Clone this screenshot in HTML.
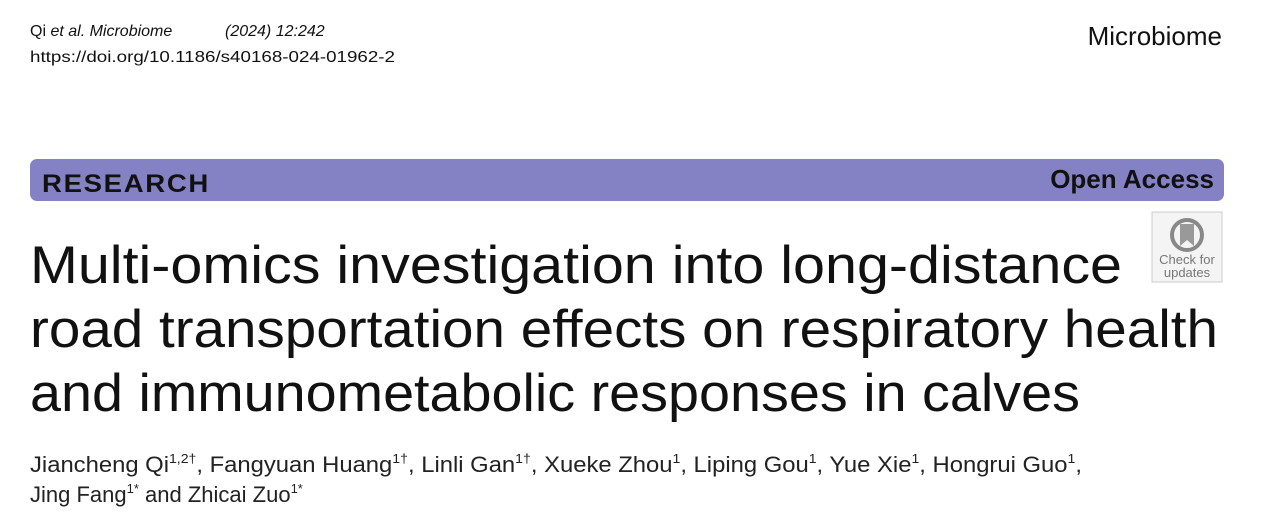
<!DOCTYPE html>
<html><head><meta charset="utf-8"><style>
html,body{margin:0;padding:0;background:#fff;}
svg{display:block;font-family:"Liberation Sans",sans-serif;}
</style></head><body>
<svg width="1266" height="528" viewBox="0 0 1266 528" xmlns="http://www.w3.org/2000/svg">
<rect width="1266" height="528" fill="#fff"/>
<text x="30" y="36" font-size="16" fill="#111">Qi <tspan font-style="italic">et al. Microbiome</tspan></text>
<text x="225" y="36" font-size="16" font-style="italic" fill="#111">(2024) 12:242</text>
<text x="30" y="62" font-size="16" fill="#111" textLength="365" lengthAdjust="spacingAndGlyphs">https://doi.org/10.1186/s40168-024-01962-2</text>
<text x="1222" y="45" font-size="26" fill="#111" text-anchor="end">Microbiome</text>
<rect x="30" y="159" width="1194" height="42" rx="7" fill="#8581c5"/>
<text x="42" y="192" font-size="25" font-weight="bold" fill="#111" letter-spacing="1.5" textLength="168" lengthAdjust="spacingAndGlyphs">RESEARCH</text>
<text x="1214" y="188" font-size="26" font-weight="bold" fill="#111" text-anchor="end">Open Access</text>
<rect x="1152" y="212" width="70" height="70" fill="#f4f4f4" stroke="#ccc"/>
<circle cx="1187" cy="235" r="15" fill="none" stroke="#888" stroke-width="4"/>
<path d="M1180 224 h14 v22 l-7 -6 l-7 6z" fill="#999"/>
<text x="1187" y="264" font-size="13" fill="#777" text-anchor="middle">Check for</text>
<text x="1187" y="277" font-size="13" fill="#777" text-anchor="middle">updates</text>
<g font-size="53" fill="#111">
<text x="30" y="283" textLength="1092" lengthAdjust="spacingAndGlyphs">Multi-omics investigation into long-distance</text>
<text x="30" y="347" textLength="1188" lengthAdjust="spacingAndGlyphs">road transportation effects on respiratory health</text>
<text x="30" y="411" textLength="1050" lengthAdjust="spacingAndGlyphs">and immunometabolic responses in calves</text>
</g>
<g font-size="22" fill="#222">
<text x="30" y="472" textLength="1052" lengthAdjust="spacingAndGlyphs">Jiancheng Qi<tspan font-size="13" dy="-9">1,2†</tspan><tspan dy="9">, Fangyuan Huang</tspan><tspan font-size="13" dy="-9">1†</tspan><tspan dy="9">, Linli Gan</tspan><tspan font-size="13" dy="-9">1†</tspan><tspan dy="9">, Xueke Zhou</tspan><tspan font-size="13" dy="-9">1</tspan><tspan dy="9">, Liping Gou</tspan><tspan font-size="13" dy="-9">1</tspan><tspan dy="9">, Yue Xie</tspan><tspan font-size="13" dy="-9">1</tspan><tspan dy="9">, Hongrui Guo</tspan><tspan font-size="13" dy="-9">1</tspan><tspan dy="9">,</tspan></text>
<text x="30" y="502">Jing Fang<tspan font-size="13" dy="-9">1*</tspan><tspan dy="9"> and Zhicai Zuo</tspan><tspan font-size="13" dy="-9">1*</tspan></text>
</g>
</svg>
</body></html>
